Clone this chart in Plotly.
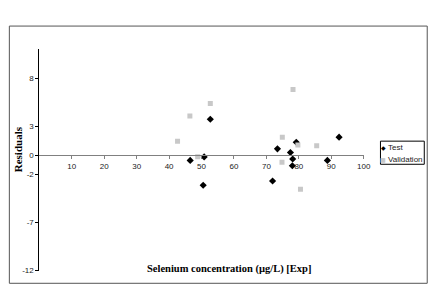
import plotly.graph_objects as go

# ---- data ----
test_x = [46.5, 50.8, 52.7, 50.5, 73.4, 71.9, 77.4, 78.1, 78.0, 79.2, 88.8, 92.4]
test_y = [-0.56, -0.2, 3.72, -3.14, 0.64, -2.7, 0.26, -0.41, -1.11, 1.33, -0.56, 1.86]

val_x = [42.6, 46.4, 52.7, 48.8, 78.2, 74.9, 74.8, 79.7, 85.5, 80.5]
val_y = [1.43, 4.06, 5.36, -0.18, 6.82, 1.86, -0.74, 1.04, 0.97, -3.55]

series_names = ["Test", "Validation"]
series_colors = ["black", "#c8c8c8"]
series_symbols = ["◆", "■"]

x_ticks = [10, 20, 30, 40, 50, 60, 70, 80, 90, 100]
y_ticks = [-12, -7, -2, 0, 3, 8]
x_range = [0, 100]
y_range = [-12, 11]

# ---- layout geometry (pixels of the 448x306 canvas) ----
W, H = 448, 306
PL, PR, PT, PB = 40, 369.5, 50, 275   # plot area edges in px


def px(xp):
    return xp / W


def py(yp):
    return (H - yp) / H


fig = go.Figure()
fig.add_trace(go.Scatter(
    x=test_x, y=test_y, mode="markers", name=series_names[0],
    marker=dict(symbol="diamond", size=5.5, color=series_colors[0]),
))
fig.add_trace(go.Scatter(
    x=val_x, y=val_y, mode="markers", name=series_names[1],
    marker=dict(symbol="square", size=5, color=series_colors[1]),
))

annotations = [
    dict(text="<b>Residuals</b>", xref="paper", yref="paper",
         x=px(18), y=py(152), textangle=-90, showarrow=False,
         font=dict(family="Times New Roman, Liberation Serif", size=11, color="black"),
         xanchor="center", yanchor="middle"),
    dict(text="<b>Selenium concentration (µg/L) [Exp]</b>", xref="paper", yref="paper",
         x=px(233), y=py(273), showarrow=False,
         font=dict(family="Times New Roman, Liberation Serif", size=10.5, color="black"),
         xanchor="center", yanchor="middle"),
]

# compact Excel-style legend
leg_rows = [150, 162]
for name, col, sym, ry in zip(series_names, series_colors, series_symbols, leg_rows):
    annotations.append(dict(
        text=sym, xref="paper", yref="paper", x=px(389.5), y=py(ry),
        showarrow=False, xanchor="center", yanchor="middle",
        font=dict(size=6, color=col, family="DejaVu Sans"),
    ))
    annotations.append(dict(
        text=name, xref="paper", yref="paper", x=px(392.5), y=py(ry),
        showarrow=False, xanchor="left", yanchor="middle",
        font=dict(size=8, color="#222", family="Arial, Liberation Sans"),
    ))

fig.update_layout(
    autosize=True,
    margin=dict(l=0, r=0, t=0, b=0, pad=0),
    paper_bgcolor="white", plot_bgcolor="white",
    font=dict(family="Arial, Liberation Sans", size=8, color="#222"),
    showlegend=False,
    xaxis=dict(
        domain=[px(PL), px(PR)],
        range=x_range, tickvals=x_ticks, ticktext=[str(v) for v in x_ticks],
        showgrid=False, zeroline=False,
        showline=True, linecolor="#808080", linewidth=1,
        ticks="outside", ticklen=3, tickcolor="#808080",
        anchor="free",
        position=py(PB) + (py(PT) - py(PB)) * (0 - y_range[0]) / (y_range[1] - y_range[0]),
        tickfont=dict(size=8),
    ),
    yaxis=dict(
        domain=[py(PB), py(PT)],
        range=y_range, tickvals=y_ticks, ticktext=[str(v) for v in y_ticks],
        showgrid=False, zeroline=False,
        showline=True, linecolor="black", linewidth=1,
        ticks="outside", ticklen=3, tickcolor="black",
        tickfont=dict(size=8),
    ),
    annotations=annotations,
    shapes=[
        dict(type="rect", xref="paper", yref="paper",
             x0=px(9.5), x1=px(434), y0=py(288), y1=py(26.5),
             line=dict(color="#555", width=1), fillcolor="rgba(0,0,0,0)", layer="below"),
        dict(type="rect", xref="paper", yref="paper",
             x0=px(386.5), x1=px(431), y0=py(167), y1=py(143.5),
             line=dict(color="black", width=1), fillcolor="white", layer="below"),
    ],
)

post = (
    "var d=document.documentElement, b=document.body;"
    "d.style.margin='0'; d.style.padding='0'; d.style.overflow='hidden';"
    "b.style.margin='0'; b.style.padding='0'; b.style.overflow='hidden';"
)

fig.write_html(
    "out.html",
    config={"displayModeBar": False, "responsive": True},
    default_width="100vw",
    default_height="100vh",
    post_script=post,
)
